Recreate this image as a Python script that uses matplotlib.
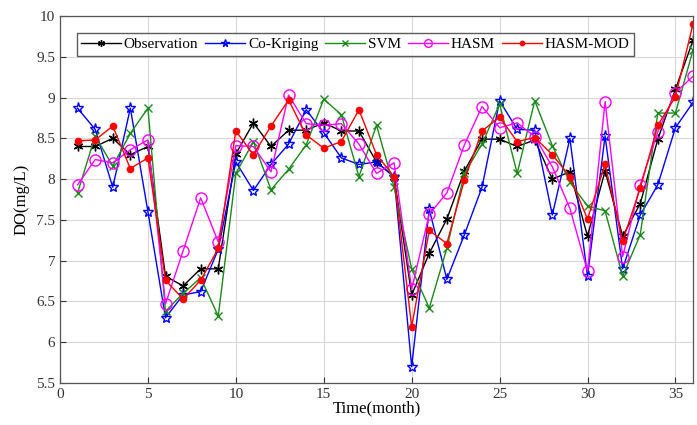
import matplotlib
matplotlib.use("Agg")
import matplotlib.pyplot as plt
import numpy as np

plt.rcParams['font.family'] = ['Liberation Serif', 'DejaVu Serif']

months = list(range(1, 37))
observation = [8.40, 8.40, 8.50, 8.30, 8.40, 6.81, 6.69, 6.90, 6.90, 8.31, 8.69, 8.40,
               8.60, 8.60, 8.69, 8.59, 8.59, 8.21, 8.03, 6.58, 7.09, 7.51,
               8.10, 8.49, 8.49, 8.40, 8.48, 8.00, 8.09, 7.30, 8.10, 7.30, 7.70, 8.49, 9.10, 9.70]
co_kriging = [8.87, 8.61, 7.90, 8.87, 7.60, 6.30, 6.58, 6.62, 7.14, 8.21, 7.86, 8.18,
              8.43, 8.85, 8.57, 8.26, 8.18, 8.21, 8.03, 5.70, 7.63, 6.77,
              7.32, 7.90, 8.96, 8.61, 8.60, 7.56, 8.50, 6.81, 8.53, 6.90, 7.56, 7.93, 8.63, 8.94]
svm = [7.83, 8.53, 8.16, 8.56, 8.87, 6.38, 6.60, 6.79, 6.32, 8.07, 8.46, 7.87,
       8.12, 8.42, 8.98, 8.79, 8.03, 8.66, 7.90, 6.90, 6.42, 7.15,
       8.07, 8.43, 8.92, 8.07, 8.96, 8.41, 7.96, 7.67, 7.61, 6.81, 7.32, 8.81, 8.81, 9.58]
hasm = [7.93, 8.24, 8.20, 8.36, 8.48, 6.47, 7.12, 7.77, 7.23, 8.41, 8.40, 8.09,
        9.03, 8.68, 8.66, 8.68, 8.43, 8.07, 8.20, 6.65, 7.57, 7.83,
        8.42, 8.89, 8.63, 8.69, 8.52, 8.15, 7.64, 6.87, 8.95, 7.05, 7.93, 8.58, 9.06, 9.26]
hasm_mod = [8.47, 8.48, 8.65, 8.13, 8.26, 6.76, 6.53, 6.76, 7.15, 8.59, 8.30, 8.65,
            8.97, 8.54, 8.38, 8.46, 8.85, 8.30, 8.03, 6.19, 7.37, 7.21,
            7.99, 8.59, 8.76, 8.46, 8.51, 8.30, 8.03, 7.51, 8.18, 7.24, 7.89, 8.66, 9.01, 9.90]

x_ticks = [0, 5, 10, 15, 20, 25, 30, 35]
y_ticks = [5.5, 6, 6.5, 7, 7.5, 8, 8.5, 9, 9.5, 10]
y_ticklabels = ['5.5', '6', '6.5', '7', '7.5', '8', '8.5', '9', '9.5', '10']

fig = plt.figure(figsize=(6.97, 4.25), dpi=100)
ax = fig.add_axes([60/697, 1-383/425, (693-60)/697, (383-16)/425])

lw = 1.0
ax.plot(months, observation, color='black', marker=(6, 2, 0), markersize=7, lw=lw, label='Observation')
ax.plot(months, co_kriging, color='blue', marker='*', markersize=8, markerfacecolor='none', lw=lw, label='Co-Kriging')
ax.plot(months, svm, color='#1a8a1a', marker='x', markersize=6, lw=lw, label='SVM')
ax.plot(months, hasm, color='magenta', marker='o', markersize=8, markerfacecolor='none', lw=lw, label='HASM')
ax.plot(months, hasm_mod, color='red', marker='.', markersize=9, lw=lw, label='HASM-MOD')

ax.set_xlim(0, 36)
ax.set_ylim(5.5, 10)
ax.set_xticks(x_ticks)
ax.set_yticks(y_ticks)
ax.set_yticklabels(y_ticklabels)
ax.tick_params(direction='in', labelsize=11, colors='#333333', length=4)
ax.grid(True, color='#d8d8d8', lw=0.8)
for s in ax.spines.values():
    s.set_color('#555555')
    s.set_linewidth(0.9)
ax.set_xlabel('Time(month)', fontsize=12, labelpad=0)
ax.set_ylabel('DO(mg/L)', fontsize=12, labelpad=5)

leg = ax.legend(loc='upper left', ncol=5, fontsize=11, frameon=True, fancybox=False,
                edgecolor='#333333', handlelength=2.6, columnspacing=0.45, handletextpad=0.2,
                borderpad=0.3, markerscale=0.7, bbox_to_anchor=(0.014, 0.975))
leg.get_frame().set_linewidth(1.0)

fig.savefig('out.png', dpi=100)
